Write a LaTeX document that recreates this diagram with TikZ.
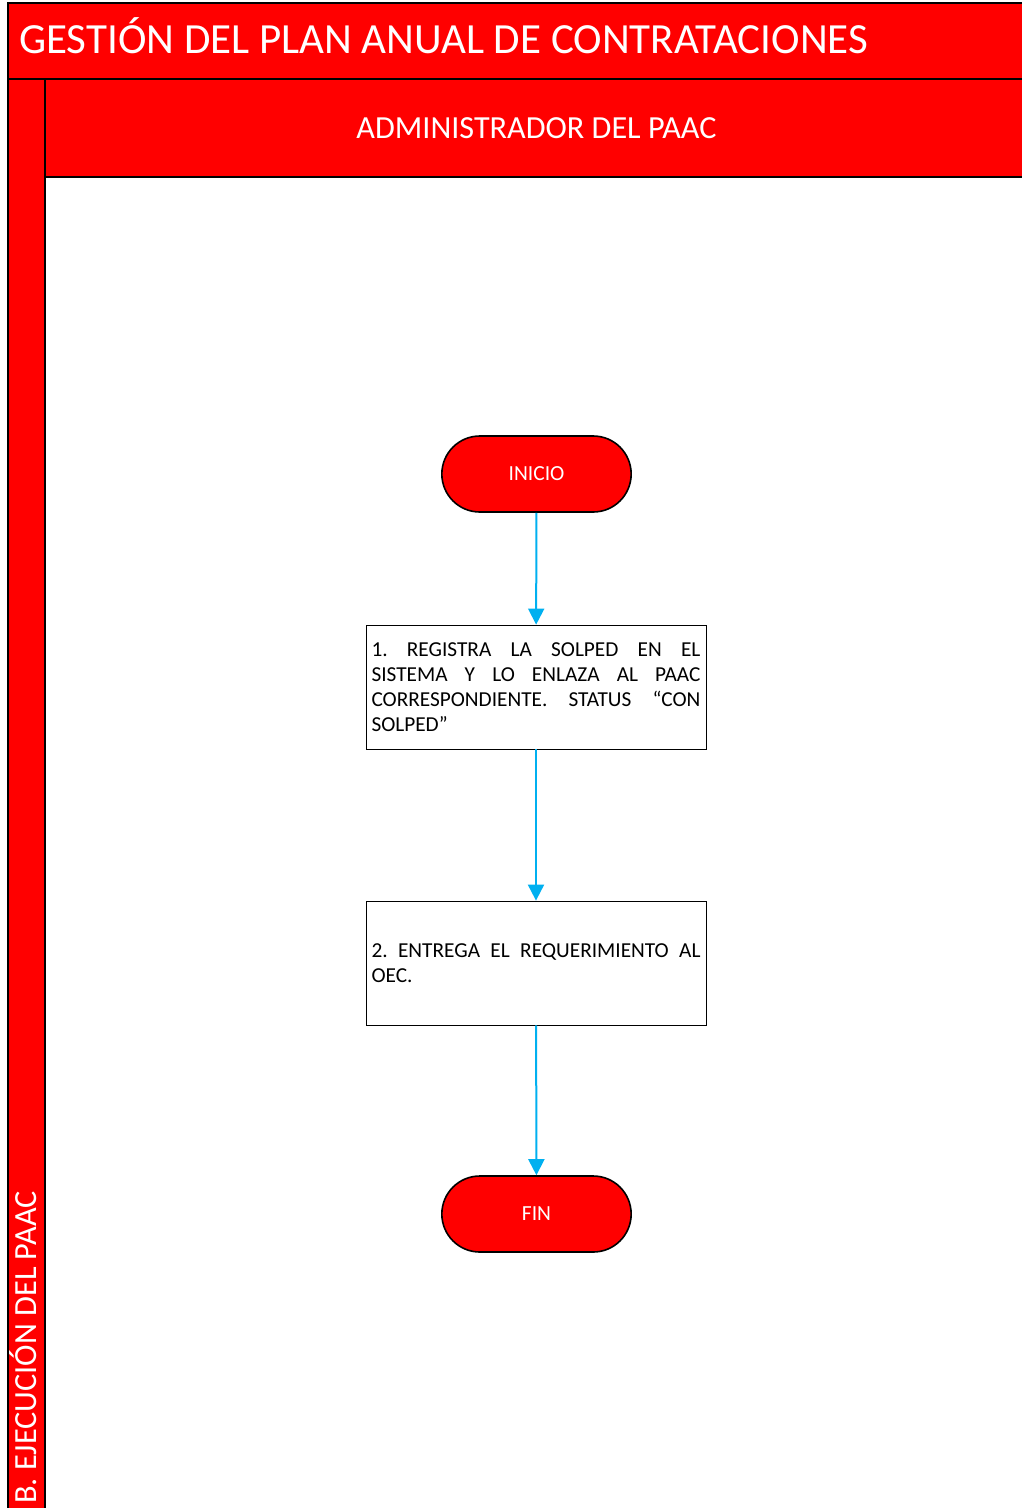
\documentclass[tikz,border=0pt]{standalone}
\usepackage{fontspec}
\setmainfont{Carlito}
\usetikzlibrary{arrows.meta,shapes.misc}
\definecolor{lanered}{HTML}{FF0000}
\definecolor{flowblue}{HTML}{00B0F0}
\frenchspacing
\begin{document}
\begin{tikzpicture}[x=1pt,y=-1pt,
  lanebox/.style={draw=black, line width=2pt, fill=lanered},
  term/.style={rounded rectangle, draw=black, line width=1.6pt, fill=lanered,
    minimum width=196pt, minimum height=76pt, text=white,
    font=\fontsize{21.5}{26}\selectfont},
  procbox/.style={draw=black, line width=0.8pt, fill=white, minimum width=340pt,
    minimum height=124pt, text width=329pt, inner xsep=5.5pt, align=justify,
    font=\fontsize{21.3}{25}\selectfont},
  flow/.style={draw=flowblue, line width=2pt, -{Triangle[width=16pt,length=16pt]}}
]
\useasboundingbox (0,0) rectangle (1022,1508);
\clip (0,0) rectangle (1022,1508);
\fill[white] (0,0) rectangle (1022,1508);
% title band
\draw[lanebox] (8,3) rectangle (1030,79);
% lane column
\draw[lanebox] (8,79) rectangle (45,1520);
% lane header
\draw[lanebox] (45,79) rectangle (1030,177);
\node[anchor=base west, text=white, inner sep=0pt, font=\fontsize{43}{50}\selectfont] (title) at (19,53) {GESTIÓN DEL PLAN ANUAL DE CONTRATACIONES};
\node[text=white, inner sep=0pt, font=\fontsize{32.2}{38}\selectfont] (hdr) at (536.5,128) {ADMINISTRADOR DEL PAAC};
\node[rotate=90, anchor=base west, text=white, inner sep=0pt, font=\fontsize{32.3}{38}\selectfont] (lane) at (36,1504) {B. EJECUCIÓN DEL PAAC};
% flow
\node[term] (inicio) at (536.5,474) {INICIO};
\node[procbox] (p1) at (536,687) {1. REGISTRA LA SOLPED EN EL\linebreak SISTEMA Y LO ENLAZA AL PAAC\linebreak CORRESPONDIENTE. STATUS “CON\linebreak SOLPED”};
\node[procbox] (p2) at (536,963) {2. ENTREGA EL REQUERIMIENTO AL\linebreak OEC.};
\node[term] (fin) at (536.5,1214) {FIN};
\draw[flow] (inicio) -- (p1);
\draw[flow] (p1) -- (p2);
\draw[flow] (p2) -- (fin);
\end{tikzpicture}
\end{document}
